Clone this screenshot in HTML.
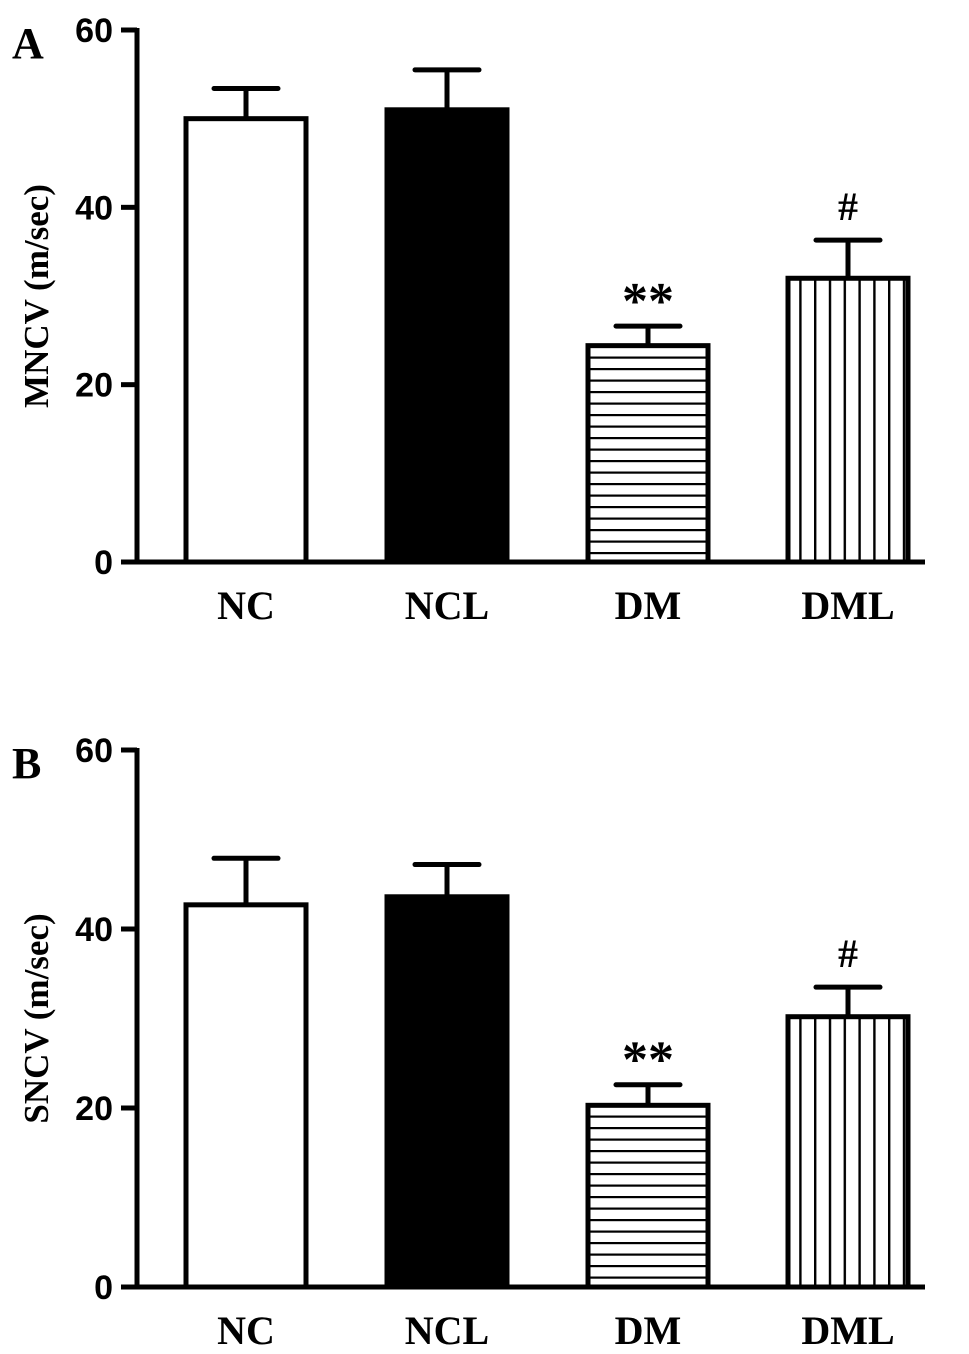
<!DOCTYPE html>
<html><head><meta charset="utf-8"><style>
html,body{margin:0;padding:0;background:#fff;}
svg{display:block;font-family:"Liberation Serif",serif;font-weight:bold;}
</style></head><body>
<svg id="fig" width="969" height="1354" viewBox="0 0 969 1354" xmlns="http://www.w3.org/2000/svg">
<defs>
<pattern id="hpat" patternUnits="userSpaceOnUse" width="10" height="11.5"><rect width="10" height="11.5" fill="#fff"/><rect y="0" width="10" height="2.2" fill="#000"/></pattern>
<pattern id="vpat" patternUnits="userSpaceOnUse" width="14.8" height="10"><rect width="14.8" height="10" fill="#fff"/><rect x="0" width="2.4" height="10" fill="#000"/></pattern>
</defs>
</svg>
<script>
const categories = ["NC","NCL","DM","DML"];
const mncvValues = [50.0, 51.0, 24.4, 32.0];
const mncvErrors = [3.4, 4.5, 2.2, 4.3];
const sncvValues = [42.7, 43.6, 20.3, 30.2];
const sncvErrors = [5.2, 3.6, 2.3, 3.3];
const yTicks = [0, 20, 40, 60];
const mncvMarks = ["", "", "**", "#"];
const sncvMarks = ["", "", "**", "#"];
const fills = ["#fff","#000","url(#hpat)","url(#vpat)"];
const svg = document.getElementById('fig');
const NS = "http://www.w3.org/2000/svg";
function mk(tag, attrs, parent){const e=document.createElementNS(NS,tag);for(const k in attrs)e.setAttribute(k,attrs[k]);(parent||svg).appendChild(e);return e;}
const barLeft = [186,387,588,788], barW = 120;
function panel(cfg){
  const g = mk('g',{});
  
  
  const y = v => cfg.y0 - (v/60)*(cfg.y0-cfg.y60);
  cfg.values.forEach((v,i)=>{
    const x = barLeft[i], top=y(v), eTop=y(v+cfg.errors[i]), cx=x+barW/2;
    const l = mk('line',{x1:cx,y1:top,x2:cx,y2:eTop,stroke:'#000','stroke-width':5},g);
    
    
    const c = mk('line',{x1:cx-32,y1:eTop,x2:cx+32,y2:eTop,stroke:'#000','stroke-width':5,'stroke-linecap':'round'},g);
    
    
    const r = mk('rect',{x:x,y:top,width:barW,height:cfg.y0-top,fill:fills[i],stroke:'#000','stroke-width':5},g);
    
    
    if(cfg.marks[i]){
      const isHash = cfg.marks[i]=='#';
      const t = mk('text',{x:cx,y:isHash?eTop-20:eTop-8,'text-anchor':'middle','font-size':isHash?40:52},g);
      t.textContent = cfg.marks[i];
      
      
    }
    const lab = mk('text',{x:cx,y:cfg.y0+57,'text-anchor':'middle','font-size':40},g);
    lab.textContent = categories[i];
    
    
  });
  const ya = mk('line',{x1:137,y1:cfg.y60-2,x2:137,y2:cfg.y0+2,stroke:'#000','stroke-width':5},g);
  
  
  const xa = mk('line',{x1:135,y1:cfg.y0,x2:925,y2:cfg.y0,stroke:'#000','stroke-width':5},g);
  
  
  yTicks.forEach(t=>{
    const ty=y(t);
    const tk = mk('line',{x1:121,y1:ty,x2:137,y2:ty,stroke:'#000','stroke-width':5},g);
    
    
    const tl = mk('text',{x:113,y:ty+12,'text-anchor':'end','font-size':34,'font-family':'Liberation Sans, sans-serif'},g);
    tl.textContent = t;
    
    
  });
  const yt = mk('text',{x:0,y:0,'text-anchor':'middle','font-size':35,transform:`translate(48,${(cfg.y0+cfg.y60)/2}) rotate(-90)`},g);
  yt.textContent = cfg.title;
  
  
  const pl = mk('text',{x:12,y:cfg.y60+28,'font-size':44},g);
  pl.textContent = cfg.letter;
  
  
}
panel({name:'panel-a',letter:'A',title:'MNCV (m/sec)',values:mncvValues,errors:mncvErrors,marks:mncvMarks,y0:562,y60:30});
panel({name:'panel-b',letter:'B',title:'SNCV (m/sec)',values:sncvValues,errors:sncvErrors,marks:sncvMarks,y0:1287,y60:750});
</script>
</body></html>
